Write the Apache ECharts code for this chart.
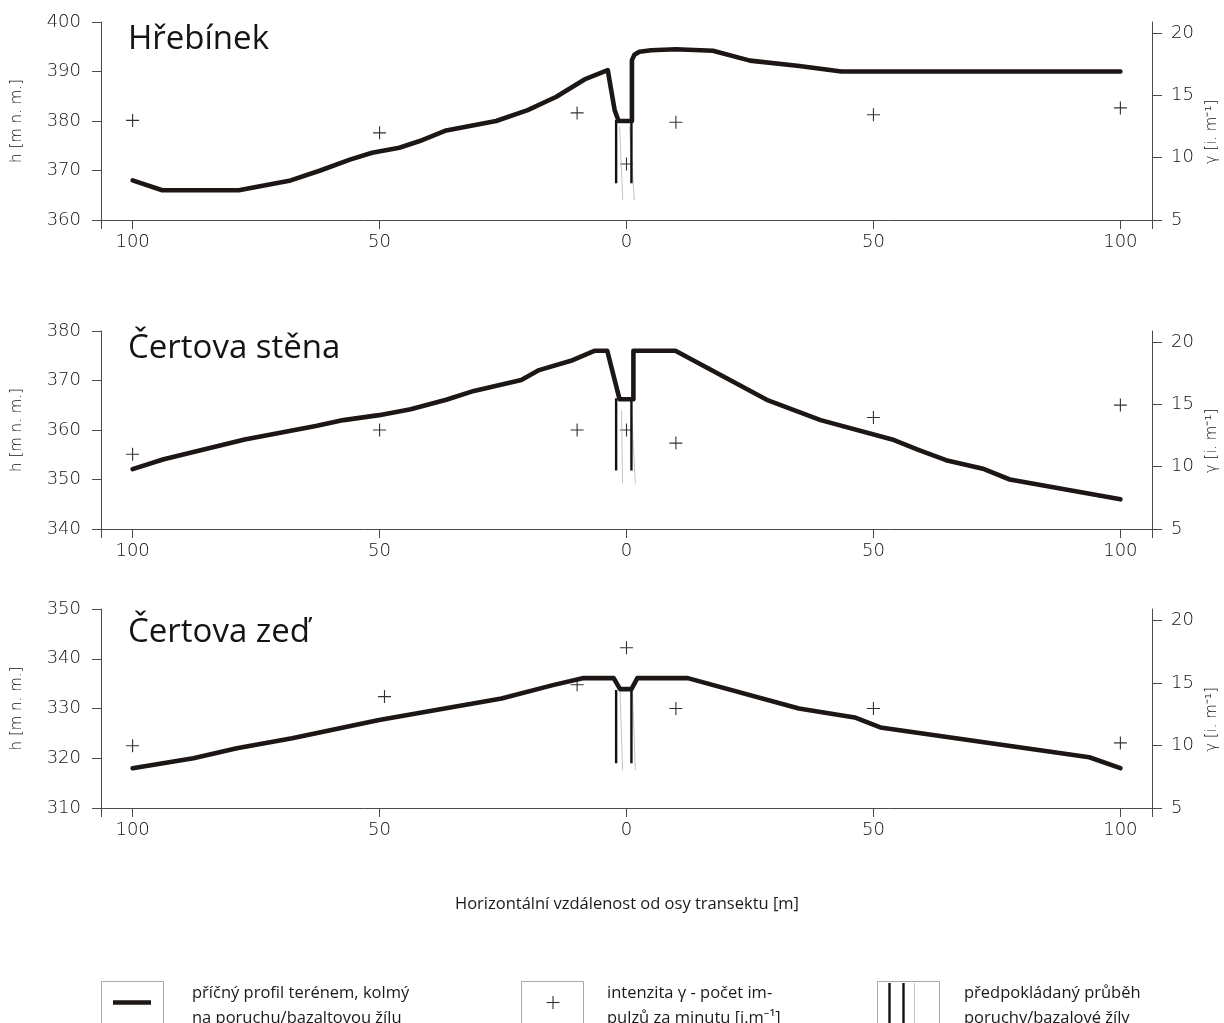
<!DOCTYPE html>
<html><head><meta charset="utf-8">
<script src="https://cdn.jsdelivr.net/npm/echarts@6/dist/echarts.min.js"></script>
<style>html,body{margin:0;padding:0;background:#fff}#c{width:1224px;height:1023px}</style>
</head><body><div id="c"></div><script>
// ---- data ----
const titles = ['Hřebínek', 'Čertova stěna', 'Čertova zeď'];
const xTickLabels = [-100, -50, 0, 50, 100];
const hTicks1 = [360, 370, 380, 390, 400];
const hTicks2 = [340, 350, 360, 370, 380];
const hTicks3 = [310, 320, 330, 340, 350];
const gammaTicks = [5, 10, 15, 20];

// Hřebínek
const terrainX1 = [-100, -94, -78.5, -68, -62, -56, -51.5, -46, -42, -36.5, -26.4, -20, -14.2, -8.5, -3.8, -2.4, -1.6, 1.1, 1.1, 1.6, 2.6, 5, 10, 17.5, 25, 35, 43.5, 100];
const terrainH1 = [368, 366, 366, 368, 370, 372.2, 373.6, 374.6, 375.9, 378.1, 380, 382.2, 384.9, 388.4, 390.3, 382.2, 380, 380, 392.3, 393.4, 394, 394.3, 394.5, 394.2, 392.2, 391.1, 390, 390];
const gammaX1 = [-100, -50, -10, 0, 10, 50, 100];
const gammaV1 = [13.0, 12.0, 13.6, 9.5, 12.85, 13.45, 14.0];
const faultBlackX1 = [-2.1, 1.0];
const faultBlackTop1 = 380.2, faultBlackBottom1 = 367.4;
const faultGreyTopX1 = [-1.4, 0.6], faultGreyBottomX1 = [-0.75, 1.6];
const faultGreyTop1 = 378.9, faultGreyBottom1 = 364.0;

// Čertova stěna
const terrainX2 = [-100, -93.7, -77.3, -62.9, -57.3, -50.1, -43.7, -36.5, -30.9, -21.3, -17.7, -10.9, -6.5, -3.9, -1.4, 1.4, 1.4, 9.9, 28.4, 39.3, 53.8, 59.1, 64.7, 72.4, 77.6, 100];
const terrainH2 = [352.1, 354.1, 358.1, 360.8, 362, 363, 364.2, 366.1, 367.9, 370.1, 372.1, 374.1, 376, 376, 366.2, 366.2, 376, 376, 366.1, 362, 358.1, 356, 353.9, 352.1, 350, 346];
const gammaX2 = [-100, -50, -10, 0, 10, 50, 100];
const gammaV2 = [11.0, 12.95, 12.95, 12.95, 11.9, 13.95, 14.95];
const faultBlackX2 = [-2.1, 1.0];
const faultBlackTop2 = 366.4, faultBlackBottom2 = 351.8;
const faultGreyTopX2 = [-1.0, 1.0], faultGreyBottomX2 = [-0.8, 1.8];
const faultGreyTop2 = 364.0, faultGreyBottom2 = 349.2;

// Čertova zeď
const terrainX3 = [-100, -87.7, -78.9, -67.7, -50.1, -25.3, -14.9, -8.9, -2.6, -1.3, 1.0, 2.2, 12.4, 34.9, 46.2, 51.4, 93.7, 100];
const terrainH3 = [318, 320, 322, 324, 327.7, 332, 334.7, 336.1, 336.1, 333.9, 333.9, 336.1, 336.1, 330, 328.2, 326.2, 320.2, 318];
const gammaX3 = [-100, -49, -10, 0, 10, 50, 100];
const gammaV3 = [9.97, 13.9, 14.85, 17.8, 12.95, 12.95, 10.2];
const faultBlackX3 = [-2.1, 1.0];
const faultBlackTop3 = 333.7, faultBlackBottom3 = 319.0;
const faultGreyTopX3 = [-1.3, 1.2], faultGreyBottomX3 = [-0.8, 1.8];
const faultGreyTop3 = 333.5, faultGreyBottom3 = 317.6;

// ---- layout ----
const panels = [
  {hTicks: hTicks1, tx: terrainX1, th: terrainH1, gx: gammaX1, gv: gammaV1, fbx: faultBlackX1, fbt: faultBlackTop1, fbb: faultBlackBottom1, fgtx: faultGreyTopX1, fgbx: faultGreyBottomX1, fgt: faultGreyTop1, fgb: faultGreyBottom1},
  {hTicks: hTicks2, tx: terrainX2, th: terrainH2, gx: gammaX2, gv: gammaV2, fbx: faultBlackX2, fbt: faultBlackTop2, fbb: faultBlackBottom2, fgtx: faultGreyTopX2, fgbx: faultGreyBottomX2, fgt: faultGreyTop2, fgb: faultGreyBottom2},
  {hTicks: hTicks3, tx: terrainX3, th: terrainH3, gx: gammaX3, gv: gammaV3, fbx: faultBlackX3, fbt: faultBlackTop3, fbb: faultBlackBottom3, fgtx: faultGreyTopX3, fgbx: faultGreyBottomX3, fgt: faultGreyTop3, fgb: faultGreyBottom3}
];
const gridTops = [22, 331, 609];
const gridHeights = [198, 198, 199];
const titleTops = [23, 332, 616];
const XEDGE = 106.4;
const axisFont = '"DejaVu Sans", sans-serif';
const labelColor = '#111';
const axisColor = '#4a4a4a';
const textFont = '"Open Sans", "Noto Sans", sans-serif';
const crossPath = 'path://M6.4,0H7.6V6.4H14V7.6H7.6V14H6.4V7.6H0V6.4H6.4Z';

const grid = [], xAxis = [], yAxis = [], series = [], title = [];
panels.forEach((p, i) => {
  grid.push({left: 101, right: 72, top: gridTops[i], height: gridHeights[i], containLabel: false, outerBoundsMode: 'none'});
  title.push({text: titles[i], left: 128, top: titleTops[i], padding: 0,
    textStyle: {fontFamily: textFont, fontSize: 33, fontWeight: 'normal', color: '#141414'}});
  xAxis.push({
    type: 'value', gridIndex: i, min: -XEDGE, max: XEDGE,
    axisLine: {show: true, onZero: false, lineStyle: {color: axisColor, width: 1}},
    axisTick: {show: true, length: 9, customValues: [-XEDGE].concat(xTickLabels, [XEDGE]), lineStyle: {color: axisColor}},
    axisLabel: {customValues: xTickLabels, formatter: v => String(Math.abs(v)), margin: 13,
      fontFamily: axisFont, fontWeight: 300, fontSize: 18, color: labelColor},
    splitLine: {show: false}
  });
  yAxis.push({
    type: 'value', gridIndex: i, position: 'left',
    min: p.hTicks[0], max: p.hTicks[p.hTicks.length - 1], interval: 10,
    name: 'h [m n. m.]', nameLocation: 'middle', nameGap: 76,
    nameTextStyle: {fontFamily: axisFont, fontWeight: 300, fontSize: 15, color: labelColor},
    axisLine: {show: true, onZero: false, lineStyle: {color: axisColor, width: 1}},
    axisTick: {show: true, length: 9, lineStyle: {color: axisColor}},
    axisLabel: {margin: 20, fontFamily: axisFont, fontWeight: 300, fontSize: 18, color: labelColor},
    splitLine: {show: false}
  });
  yAxis.push({
    type: 'value', gridIndex: i, position: 'right',
    min: 5, max: 20.9, interval: 5,
    name: 'γ [i. m⁻¹]', nameLocation: 'middle', nameGap: 53,
    nameTextStyle: {fontFamily: axisFont, fontWeight: 300, fontSize: 15, color: labelColor, padding: [0, 22, 0, 0]},
    axisLine: {show: true, onZero: false, lineStyle: {color: axisColor, width: 1}},
    axisTick: {show: true, length: 10, customValues: gammaTicks, lineStyle: {color: axisColor}},
    axisLabel: {customValues: gammaTicks, margin: 19, fontFamily: axisFont, fontWeight: 300, fontSize: 18, color: labelColor},
    splitLine: {show: false}
  });
  // fault lines
  p.fgtx.forEach((xt, k) => {
    series.push({type: 'line', xAxisIndex: i, yAxisIndex: 2 * i, symbol: 'none', silent: true,
      lineStyle: {color: '#c4c4c4', width: 1},
      data: [[xt, p.fgt], [p.fgbx[k], p.fgb]]});
  });
  p.fbx.forEach(xb => {
    series.push({type: 'line', xAxisIndex: i, yAxisIndex: 2 * i, symbol: 'none', silent: true,
      lineStyle: {color: '#111', width: 2.4},
      data: [[xb, p.fbt], [xb, p.fbb]]});
  });
  // terrain profile
  series.push({type: 'line', xAxisIndex: i, yAxisIndex: 2 * i, symbol: 'none', silent: true,
    lineStyle: {color: '#1c1715', width: 4.6, cap: 'round', join: 'round'},
    data: p.tx.map((x, k) => [x, p.th[k]])});
  // gamma intensity
  series.push({type: 'scatter', xAxisIndex: i, yAxisIndex: 2 * i + 1, symbol: crossPath, symbolSize: 13, silent: true,
    itemStyle: {color: '#333', opacity: 1},
    data: p.gx.map((x, k) => [x, p.gv[k]])});
});

const legendText = {fontFamily: textFont, fontSize: 16.5, fill: '#1a1a1a', lineHeight: 25};
const graphic = [
  {type: 'text', x: 627, y: 896, style: {text: 'Horizontální vzdálenost od osy transektu [m]', fontFamily: textFont, fontSize: 16.5, fill: '#1a1a1a', align: 'center'}},
  // legend 1
  {type: 'rect', shape: {x: 101.5, y: 981.5, width: 62, height: 60}, style: {fill: 'none', stroke: '#a8a8a8', lineWidth: 1}},
  {type: 'line', shape: {x1: 113, y1: 1002.5, x2: 151, y2: 1002.5}, style: {stroke: '#1c1715', lineWidth: 4.5}},
  {type: 'text', x: 192, y: 981, style: Object.assign({text: 'příčný profil terénem, kolmý\nna poruchu/bazaltovou žílu'}, legendText)},
  // legend 2
  {type: 'rect', shape: {x: 521.5, y: 981.5, width: 62, height: 60}, style: {fill: 'none', stroke: '#a8a8a8', lineWidth: 1}},
  {type: 'line', shape: {x1: 546.5, y1: 1002.5, x2: 559.5, y2: 1002.5}, style: {stroke: '#333', lineWidth: 1.1}},
  {type: 'line', shape: {x1: 553, y1: 996, x2: 553, y2: 1009}, style: {stroke: '#333', lineWidth: 1.1}},
  {type: 'text', x: 607, y: 981, style: Object.assign({text: 'intenzita γ - počet im-\npulzů za minutu [i.m⁻¹]'}, legendText)},
  // legend 3
  {type: 'rect', shape: {x: 877.5, y: 981.5, width: 62, height: 60}, style: {fill: 'none', stroke: '#a8a8a8', lineWidth: 1}},
  {type: 'line', shape: {x1: 889.5, y1: 983, x2: 889.5, y2: 1023}, style: {stroke: '#111', lineWidth: 2.4}},
  {type: 'line', shape: {x1: 903.5, y1: 983, x2: 903.5, y2: 1023}, style: {stroke: '#111', lineWidth: 2.4}},
  {type: 'line', shape: {x1: 914.5, y1: 983, x2: 914.5, y2: 1023}, style: {stroke: '#c4c4c4', lineWidth: 1}},
  {type: 'text', x: 964, y: 981, style: Object.assign({text: 'předpokládaný průběh\nporuchy/bazalové žíly'}, legendText)}
];

const chart = echarts.init(document.getElementById('c'), null, {renderer: 'canvas'});
chart.setOption({
  animation: false, backgroundColor: '#fff',
  title, grid, xAxis, yAxis, series, graphic
});
</script></body></html>
